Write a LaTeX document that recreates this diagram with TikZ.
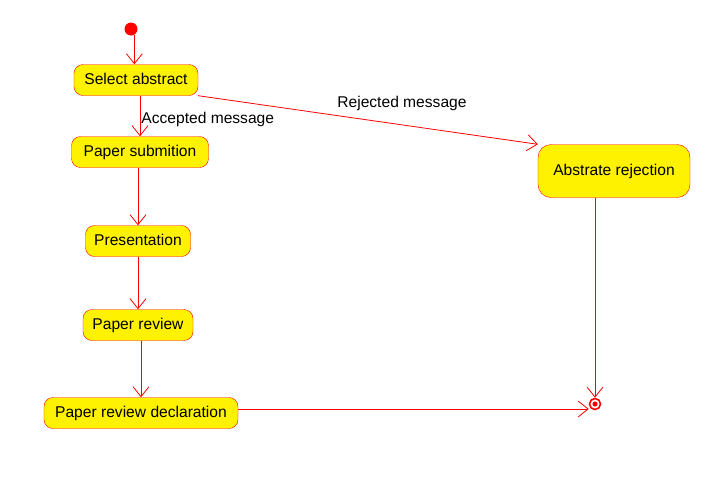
\documentclass[tikz,border=0pt]{standalone}
\usepackage{fontspec}
\setmainfont{Liberation Sans}
\usetikzlibrary{arrows.meta,positioning}

\begin{document}
\begin{tikzpicture}[
    x=1pt, y=-1pt,
    font=\fontsize{15.6}{18}\selectfont,
    activity/.style={rectangle, draw=red, fill=yellow, rounded corners=9pt, minimum height=31pt, inner xsep=8pt, text centered, text height=11pt, text depth=3pt},
    initial/.style={circle, fill=red, minimum size=13pt, inner sep=0pt},
    final/.style={circle, draw=red, line width=1.6pt, fill=white, minimum size=11pt, inner sep=0pt},
    flow/.style={draw=red, line width=0.8pt, -{Straight Barb[length=10pt, width=16pt]}},
    guard/.style={inner sep=1pt}
]

\useasboundingbox (0,0) rectangle (722,480);

% Start and end
\node [initial] (start) at (131,29) {};
\node [final] (stop) at (595,404) {};
\fill [red] (stop) circle (2.6pt);

% Activities
\node [activity, minimum width=124pt] (select) at (136,80) {Select abstract};
\node [activity, minimum width=137pt] (submit) at (140,152) {Paper submition};
\node [activity, minimum width=105pt] (present) at (138,241) {Presentation};
\node [activity, minimum width=110pt] (review) at (138,325) {Paper review};
\node [activity, minimum width=194pt] (declare) at (141,413) {Paper review declaration};
\node [activity, minimum width=152pt, minimum height=53pt, rounded corners=13pt] (reject) at (614,171) {Abstrate rejection};

% Flows
\draw [flow] (start.-60) -- (start.-60 |- select.north);
\draw [flow] (select.south -| submit) -- node [guard, right, yshift=-3pt] {Accepted message} (submit.north);
\draw [flow] (select.south east) -- node [guard, pos=0.6, above=13pt] {Rejected message} (reject.north west);
\draw [flow] (submit.south -| present) -- (present.north);
\draw [flow] (present.south) -- (review.north);
\draw [flow] (review.south -| declare) -- (declare.north);
\draw [flow] ([yshift=4pt]declare.east) -- ([yshift=4pt]declare.east -| stop.west);
\draw [flow] (reject.south -| stop) -- (stop.north);

\end{tikzpicture}
\end{document}
